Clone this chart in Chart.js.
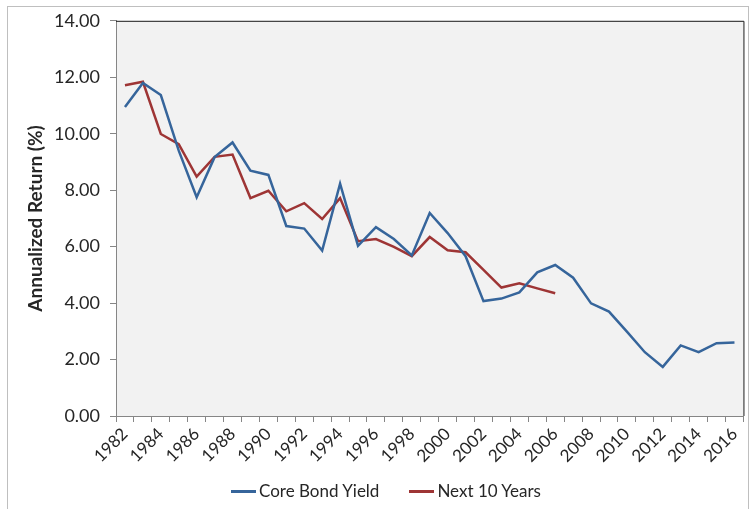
<!DOCTYPE html>
<html>
<head>
<meta charset="utf-8">
<script src="https://cdn.jsdelivr.net/npm/chart.js@4"></script>
<style>
  html, body { margin: 0; padding: 0; background: #fff; }
  #wrap { width: 751px; height: 509px; position: relative; }
  #legend { position: absolute; left: 231px; top: 480px; display: flex; align-items: center;
            font-family: Lato, "Open Sans", sans-serif; font-size: 17px; color: #262626; line-height: 22px; }
  #legend .item { display: flex; align-items: center; margin-right: 30px; }
  #legend .swatch { width: 25px; height: 3px; margin-right: 3px; }
</style>
</head>
<body>
<div id="wrap">
  <canvas id="bondChart" width="751" height="509"></canvas>
  <div id="legend"></div>
</div>
<script>
const years = [];
for (let y = 1982; y <= 2016; y++) years.push(String(y));

const coreBondYield = [10.95, 11.80, 11.37, 9.40, 7.75, 9.17, 9.69, 8.69, 8.54, 6.73,
    6.64, 5.86, 8.23, 6.03, 6.69, 6.27, 5.69, 7.19, 6.48, 5.66,
    4.07, 4.16, 4.38, 5.09, 5.35, 4.90, 3.99, 3.70, 2.99, 2.26,
    1.74, 2.50, 2.26, 2.58, 2.60];
const next10Years = [11.72, 11.84, 9.99, 9.63, 8.48, 9.18, 9.26, 7.72, 7.98, 7.25,
    7.54, 6.98, 7.72, 6.19, 6.27, 5.99, 5.66, 6.34, 5.87, 5.80,
    5.18, 4.55, 4.70, 4.52, 4.35];

const yTicks = [0, 2, 4, 6, 8, 10, 12, 14];

const axisGrey = '#868686';
const textColor = '#262626';
const fontFamily = 'Lato, "Open Sans", sans-serif';

// plot area fill, plot frame and outer chart border
const framePlugin = {
    id: 'frame',
    beforeDraw(chart) {
        const { ctx, chartArea: a } = chart;
        ctx.save();
        ctx.fillStyle = '#f2f2f2';
        ctx.fillRect(a.left, a.top, a.right - a.left, a.bottom - a.top);
        ctx.restore();
    },
    afterDraw(chart) {
        const { ctx, chartArea: a } = chart;
        ctx.save();
        ctx.strokeStyle = '#1a1a1a';
        ctx.lineWidth = 1;
        ctx.beginPath();
        ctx.moveTo(a.left, a.top + 0.5);
        ctx.lineTo(a.right + 0.5, a.top + 0.5);
        ctx.lineTo(a.right + 0.5, a.bottom);
        ctx.stroke();
        ctx.strokeStyle = '#bfbfbf';
        ctx.strokeRect(7.5, 6.5, 741, 510);
        ctx.restore();
    }
};

const ctx = document.getElementById('bondChart').getContext('2d');
const bondChart = new Chart(ctx, {
    type: 'line',
    data: {
        labels: years,
        datasets: [{
            label: 'Core Bond Yield',
            data: coreBondYield,
            borderColor: '#36659b',
            backgroundColor: '#36659b',
            borderWidth: 2.5,
            pointRadius: 0,
            tension: 0
        }, {
            label: 'Next 10 Years',
            data: next10Years,
            borderColor: '#9e3535',
            backgroundColor: '#9e3535',
            borderWidth: 2.5,
            pointRadius: 0,
            tension: 0
        }]
    },
    options: {
        responsive: false,
        animation: false,
        layout: { padding: { top: 20, right: 7, left: 0, bottom: 35 } },
        plugins: {
            tooltip: { enabled: false },
            legend: { display: false }
        },
        scales: {
            x: {
                offset: true,
                grid: {
                    offset: true,
                    drawOnChartArea: false,
                    drawTicks: true,
                    tickLength: 6,
                    color: axisGrey
                },
                border: { color: axisGrey, width: 1 },
                ticks: {
                    autoSkip: false,
                    minRotation: 45,
                    maxRotation: 45,
                    padding: 2,
                    color: textColor,
                    font: { family: fontFamily, size: 17 },
                    callback: (v, i) => (i % 2 === 0 ? years[i] : '')
                },
                afterFit: s => { s.height = 58; }
            },
            y: {
                min: 0,
                max: 14,
                afterBuildTicks: s => { s.ticks = yTicks.map(v => ({ value: v })); },
                grid: {
                    drawOnChartArea: false,
                    drawTicks: true,
                    tickLength: 6,
                    color: axisGrey
                },
                border: { color: axisGrey, width: 1 },
                ticks: {
                    padding: 10,
                    color: textColor,
                    font: { family: fontFamily, size: 18 },
                    callback: v => v.toFixed(2)
                },
                title: {
                    display: true,
                    text: 'Annualized Return (%)',
                    color: textColor,
                    padding: { top: 24, bottom: 0 },
                    font: { family: fontFamily, size: 19, weight: 'bold' }
                },
                afterFit: s => { s.width = 116; }
            }
        }
    },
    plugins: [framePlugin]
});

// legend built from the chart's own datasets
const legendEl = document.getElementById('legend');
bondChart.data.datasets.forEach(ds => {
    const item = document.createElement('div');
    item.className = 'item';
    const sw = document.createElement('span');
    sw.className = 'swatch';
    sw.style.background = ds.borderColor;
    const txt = document.createElement('span');
    txt.textContent = ds.label;
    item.appendChild(sw);
    item.appendChild(txt);
    legendEl.appendChild(item);
});
</script>
</body>
</html>
